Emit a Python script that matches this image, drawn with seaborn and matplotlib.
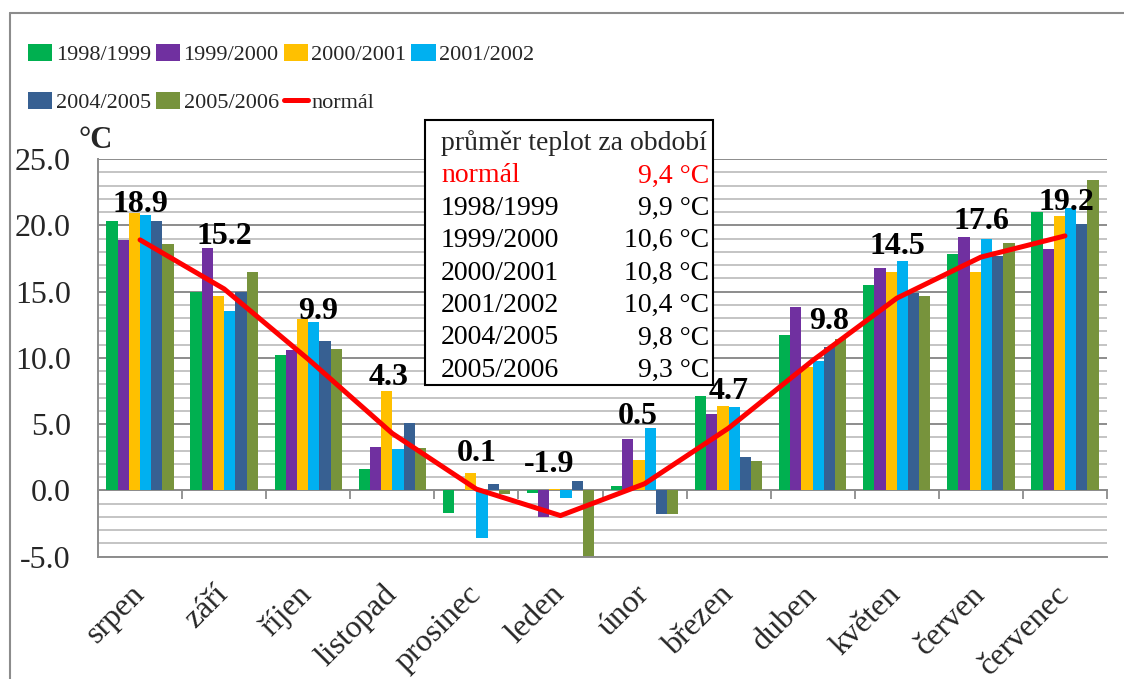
import numpy as np
import pandas as pd
import matplotlib
matplotlib.use("Agg")
import matplotlib.pyplot as plt
import seaborn as sns
from matplotlib.patches import Patch, Rectangle
from matplotlib.lines import Line2D
from matplotlib.ticker import MultipleLocator, FormatStrFormatter

# ---- data -------------------------------------------------------------
months = ["srpen", "září", "říjen", "listopad", "prosinec", "leden",
          "únor", "březen", "duben", "květen", "červen", "červenec"]
seasons = ["1998/1999", "1999/2000", "2000/2001", "2001/2002",
           "2004/2005", "2005/2006"]

t_1998_1999 = [20.3, 15.0, 10.2, 1.6, -1.7, -0.2, 0.3, 7.1, 11.7, 15.5, 17.8, 21.0]
t_1999_2000 = [18.9, 18.3, 10.6, 3.3, 0.0, -2.0, 3.9, 5.8, 13.8, 16.8, 19.1, 18.2]
t_2000_2001 = [20.9, 14.7, 12.9, 7.5, 1.3, 0.1, 2.3, 6.4, 9.3, 16.5, 16.5, 20.7]
t_2001_2002 = [20.8, 13.5, 12.7, 3.1, -3.6, -0.6, 4.7, 6.3, 9.8, 17.3, 19.0, 21.3]
t_2004_2005 = [20.3, 15.0, 11.3, 5.1, 0.5, 0.7, -1.8, 2.5, 10.8, 14.9, 17.7, 20.1]
t_2005_2006 = [18.6, 16.5, 10.7, 3.2, -0.3, -5.2, -1.8, 2.2, 11.4, 14.7, 18.7, 23.4]
normal = [18.9, 15.2, 9.9, 4.3, 0.1, -1.9, 0.5, 4.7, 9.8, 14.5, 17.6, 19.2]

period_names = ["normál", "1998/1999", "1999/2000", "2000/2001",
                "2001/2002", "2004/2005", "2005/2006"]
period_means = ["9,4 °C", "9,9 °C", "10,6 °C", "10,8 °C",
                "10,4 °C", "9,8 °C", "9,3 °C"]

# label placement relative to each point of the normal line
label_dx = [0.0, 0.0, 0.12, -0.04, 0.0, -0.13, -0.08, 0.0, 0.19, 0.01, 0.01, 0.02]
label_dy = [2.67, 3.96, 3.6, 4.25, 2.69, 3.86, 5.08, 2.77, 2.95, 3.9, 2.69, 2.52]

colors = ["#00B050", "#7030A0", "#FFC000", "#00B0F0", "#376092", "#77933C"]
line_color = "#FF0000"
grid_minor = "#C4C4C4"
grid_major = "#8C8C8C"

series = [t_1998_1999, t_1999_2000, t_2000_2001, t_2001_2002, t_2004_2005, t_2005_2006]
df = pd.DataFrame({
    "měsíc": np.tile(months, len(seasons)),
    "období": np.repeat(seasons, len(months)),
    "teplota": np.concatenate(series),
})

# ---- style ------------------------------------------------------------
sns.set_theme(style="white")
plt.rcParams["font.family"] = ["Liberation Serif", "DejaVu Serif"]

fig = plt.figure(figsize=(11.24, 6.79), dpi=100)
ax = fig.add_axes([98 / 1124, 1 - 556.7 / 679, (1107 - 98) / 1124, (556.7 - 159) / 679])

sns.barplot(data=df, x="měsíc", y="teplota", hue="období", order=months,
            hue_order=seasons, palette=dict(zip(seasons, colors)),
            saturation=1, width=0.8, errorbar=None, linewidth=0,
            legend=False, ax=ax, zorder=2)

sns.lineplot(x=np.arange(len(months)), y=normal, color=line_color,
             linewidth=3.6, ax=ax, zorder=4)

for i, v in enumerate(normal):
    ax.text(i + label_dx[i], v + label_dy[i], f"{v:.1f}", ha="center",
            va="center", fontsize=23, fontweight="bold", color="black", zorder=5)

# ---- axes -------------------------------------------------------------
ax.set_xlim(-0.5, len(months) - 0.5)
ax.set_ylim(-5, 25)
ax.yaxis.set_major_locator(MultipleLocator(5))
ax.yaxis.set_minor_locator(MultipleLocator(1))
ax.yaxis.set_major_formatter(FormatStrFormatter("%.1f"))
ax.grid(axis="y", which="minor", color=grid_minor, linewidth=1.4, zorder=0)
ax.grid(axis="y", which="major", color=grid_major, linewidth=1.4, zorder=0)
ax.grid(axis="x", visible=False)
ax.set_axisbelow(True)
ax.set_xlabel("")
ax.set_ylabel("")

for side in ("top", "right"):
    ax.spines[side].set_visible(False)
for side in ("left", "bottom"):
    ax.spines[side].set_color(grid_major)
    ax.spines[side].set_linewidth(1.4)

ax.tick_params(axis="y", which="both", direction="out", length=6.5, width=1.3,
               color=grid_major, labelsize=23, pad=13)
ax.tick_params(axis="y", which="minor", labelleft=False)
ax.tick_params(axis="x", length=0, labelsize=23, pad=24)
ax.set_xticks(np.arange(len(months)))
ax.set_xticklabels(months, rotation=45, ha="right", va="center",
                   rotation_mode="anchor")

# category separators hanging from the zero line
zero_axis = ax.secondary_xaxis(5 / 30)
zero_axis.set_xticks(np.arange(-0.5, len(months), 1.0))
zero_axis.tick_params(axis="x", direction="out", length=6.5, width=1.3,
                      color=grid_major, labelbottom=False)
zero_axis.spines["bottom"].set_color(grid_major)
zero_axis.spines["bottom"].set_linewidth(1.4)

fig.text(96 / 1124, 1 - 140 / 679, "°C", fontsize=22, fontweight="bold",
         ha="center", va="center")

# ---- legend (filled row by row) --------------------------------------
handles = [Patch(facecolor=c, edgecolor="none") for c in colors]
handles.append(Line2D([], [], color=line_color, linewidth=3.6))
labels = seasons + ["normál"]
ncol = 4
order = [r * ncol + c for c in range(ncol) for r in range(2) if r * ncol + c < len(labels)]
fig.legend([handles[k] for k in order], [labels[k] for k in order],
           loc="upper left", bbox_to_anchor=(28 / 1124, 1 - 44 / 679),
           ncol=ncol, frameon=False, fontsize=16, handlelength=1.1,
           handleheight=0.8, handletextpad=0.15, columnspacing=0.22,
           labelspacing=1.2, borderaxespad=0, borderpad=0)

# ---- summary box ------------------------------------------------------
bx0, bx1, by0, by1 = 425, 713, 120, 385
fig.add_artist(Rectangle((bx0 / 1124, 1 - by1 / 679), (bx1 - bx0) / 1124,
                         (by1 - by0) / 679, transform=fig.transFigure,
                         facecolor="white", edgecolor="black", linewidth=1.5,
                         zorder=6))
fig.text(441 / 1124, 1 - 143 / 679, "průměr teplot za období", fontsize=20,
         ha="left", va="center", zorder=7)
for k, (name, mean) in enumerate(zip(period_names, period_means)):
    yy = 1 - (176 + 32.4 * k) / 679
    col = line_color if k == 0 else "black"
    fig.text(441 / 1124, yy, name, fontsize=20, ha="left", va="center",
             color=col, zorder=7)
    fig.text(709 / 1124, yy, mean, fontsize=20, ha="right", va="center",
             color=col, zorder=7)

# ---- outer frame ------------------------------------------------------
fig.add_artist(Line2D([10 / 1124, 1.0], [1 - 13 / 679] * 2,
                      transform=fig.transFigure, color="#8C8C8C", linewidth=1.5))
fig.add_artist(Line2D([10 / 1124] * 2, [0.0, 1 - 13 / 679],
                      transform=fig.transFigure, color="#8C8C8C", linewidth=1.5))

fig.savefig("out.png", dpi=100)
